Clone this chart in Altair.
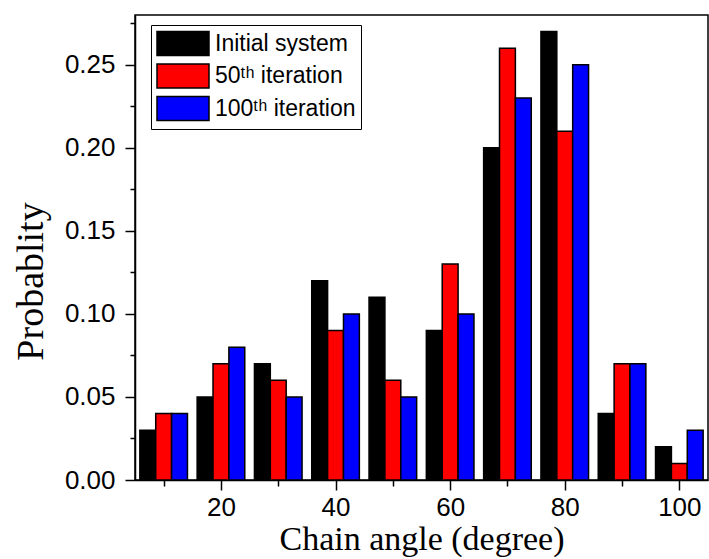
import altair as alt
import pandas as pd

angles = [10, 20, 30, 40, 50, 60, 70, 80, 90, 100]
initial = [0.03, 0.05, 0.07, 0.12, 0.11, 0.09, 0.20, 0.27, 0.04, 0.02]
iter50 = [0.04, 0.07, 0.06, 0.09, 0.06, 0.13, 0.26, 0.21, 0.07, 0.01]
iter100 = [0.04, 0.08, 0.05, 0.10, 0.05, 0.10, 0.23, 0.25, 0.07, 0.03]
series_names = ["Initial system", "50ᵗʰ iteration", "100ᵗʰ iteration"]
series_colors = ["#000000", "#ff0000", "#0000ff"]
x_ticks = [10, 20, 30, 40, 50, 60, 70, 80, 90, 100]
y_ticks = [0, 0.025, 0.05, 0.075, 0.1, 0.125, 0.15, 0.175, 0.2, 0.225, 0.25, 0.275]

rows = []
for idx, (name, vals) in enumerate(zip(series_names, [initial, iter50, iter100])):
    for a, v in zip(angles, vals):
        rows.append({"angle": a, "prob": v, "series": name, "idx": idx})
df = pd.DataFrame(rows)

BW = 2.77  # bar width in data units

axis_common = dict(
    labelFont="Liberation Sans", labelFontSize=26, labelColor="black",
    tickColor="black", tickWidth=1.5, domainColor="black", domainWidth=1.5,
    grid=False, titleFont="Liberation Serif",
    titleFontWeight="normal", titleColor="black",
)

chart = alt.Chart(df).transform_calculate(
    x0=f"datum.angle + (datum.idx - 1.5) * {BW}",
    x1=f"datum.angle + (datum.idx - 0.5) * {BW}",
).mark_bar(stroke="black", strokeWidth=1.5).encode(
    x=alt.X("x0:Q", title="Chain angle (degree)",
            scale=alt.Scale(domain=[5, 105], nice=False, zero=False),
            axis=alt.Axis(values=x_ticks,
                          labelExpr="datum.value % 20 == 0 ? datum.label : ''",
                          tickSize={"condition": {"test": "datum.value % 20 == 0", "value": 10}, "value": 6},
                          labelPadding=4, titlePadding=2, titleFontSize=34, **axis_common)),
    x2="x1:Q",
    y=alt.Y("prob:Q", title="Probablity",
            scale=alt.Scale(domain=[0, 0.28], nice=False),
            axis=alt.Axis(values=y_ticks, format=".2f",
                          labelExpr="round(datum.value * 1000) % 50 == 0 ? datum.label : ''",
                          tickSize={"condition": {"test": "round(datum.value * 1000) % 50 == 0", "value": 10}, "value": 5},
                          labelPadding=10, titlePadding=14, titleFontSize=38, titleY=266,
                          **axis_common)),
    y2=alt.datum(0),
    color=alt.Color("series:N",
                    scale=alt.Scale(domain=series_names, range=series_colors),
                    legend=alt.Legend(title=None, orient="none", legendX=16, legendY=10,
                                      strokeColor="black", padding=5,
                                      symbolType="M-1,-0.96H3.16V0.96H-1Z", symbolSize=625,
                                      symbolStrokeColor="black", symbolStrokeWidth=1.5,
                                      symbolOpacity=1,
                                      labelFont="Liberation Sans", labelFontSize=23,
                                      labelColor="black", labelOffset=32, rowPadding=1.5,
                                      labelLimit=400)),
).properties(
    width=573, height=465, autosize="none",
    padding={"left": 135, "top": 15, "right": 1, "bottom": 79},
).configure_view(stroke="black", strokeWidth=1.5)

chart.save("out.html", embed_options={"renderer": "svg", "actions": False})
